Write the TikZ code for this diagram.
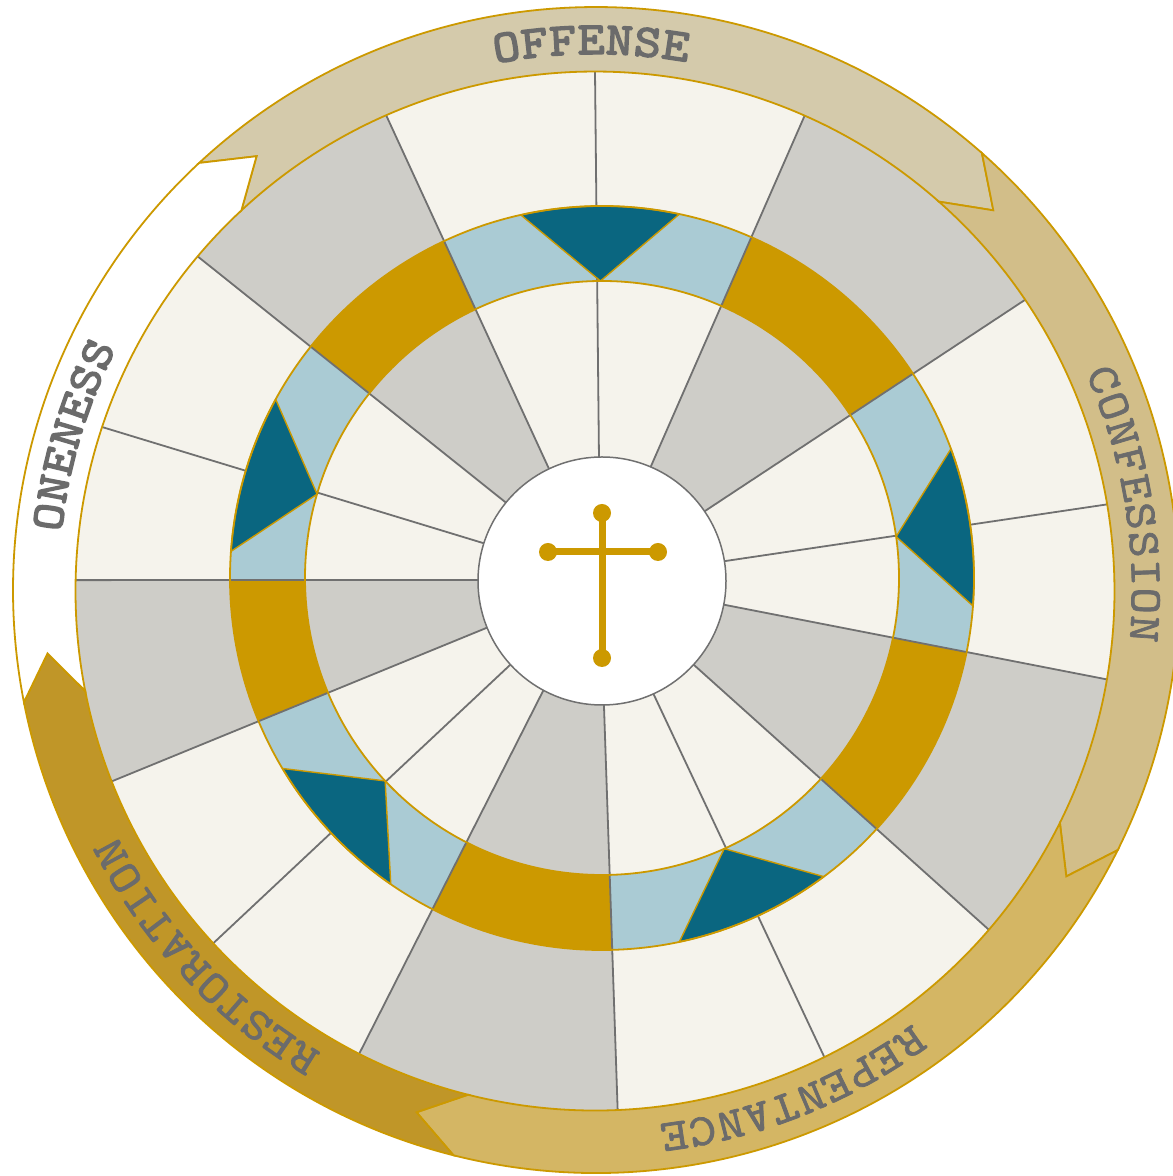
\documentclass[tikz,border=0pt]{standalone}
\usepackage{fontspec}
\newfontfamily\bandfont[FakeBold=1.6,FakeStretch=1.12]{lmmono10-regular.otf}
\newfontfamily\bandbold[FakeBold=3.2,FakeStretch=1.12]{lmmono10-regular.otf}
\usetikzlibrary{calc}
\definecolor{WHGold}{HTML}{CC9900}
\definecolor{WHCream}{HTML}{F5F3EC}
\definecolor{WHGray}{HTML}{CECDC8}
\definecolor{WHBlue}{HTML}{AACBD4}
\definecolor{WHTeal}{HTML}{0A6680}
\definecolor{WHLine}{HTML}{707070}
\definecolor{WHText}{HTML}{6B6B6B}
\definecolor{WHOffense}{HTML}{D4CAAB}
\definecolor{WHConfess}{HTML}{D2BE89}
\definecolor{WHRepent}{HTML}{D4B664}
\definecolor{WHRestore}{HTML}{C09628}

\tikzset{
  spoke/.style={WHLine,line width=1.8pt},
  ringline/.style={WHGold,line width=1.8pt},
  tealtri/.style={fill=WHTeal,draw=WHGold,line width=1.4pt,line join=round},
  lbl regular/.style={anchor=base,inner sep=0pt,text=WHText,font=\bandfont\fontsize{45}{45}\selectfont},
  lbl bold/.style={lbl regular,font=\bandbold\fontsize{46}{46}\selectfont},
}

% one band arrow: fill, tail base, tail tip, head base, head tip
\newcommand\bandarrow[5]{%
  \filldraw[fill=#1,draw=WHGold,line width=1.8pt,line join=miter]
    ($(C4)+(#2:583)$) arc[start angle=#2,end angle=#4,radius=583]
    -- ($(C3)+(#5:551)$) -- ($(C3)+(#4:519.5)$)
    arc[start angle=#4,end angle=#2,radius=519.5]
    -- ($(C3)+(#3:551)$) -- cycle;}

% letters set along the band: style, name prefix, mid angle, half count, letters
\newcommand\bandword[5]{%
  \foreach \ch [count=\i from 0] in {#5}{%
    \pgfmathsetmacro\wang{#3+(#4-\i)*2.95}%
    \node[#1,rotate=\wang-90] (#2\i) at ($(C3)+(\wang:537)$) {\ch};}}

\begin{document}
\begin{tikzpicture}[x=1pt,y=1pt]
\path[use as bounding box] (0,0) rectangle (1173,1176);
\coordinate (C1) at (602,595);
\coordinate (C2) at (602,598);
\coordinate (C3) at (595,585);
\coordinate (C4) at (596,586);

% segments
\fill[WHCream] (C3) circle (519.5);
\foreach \ai/\ao/\bi/\bo in {66.9/66.2/34.2/34.1,-11.0/-9.8/-42.4/-40.7,
  -89.1/-87.5/-118.2/-117.0,-157.9/-158.5/-180.5/-181.2,-219.2/-220.1/-244.7/-246.3}
  \fill[WHGray] ($(C1)+(\ai:124)$) -- ($(C3)+(\ao:519.5)$)
    arc[start angle=\ao,end angle=\bo,radius=519.5] -- ($(C1)+(\bi:124)$) -- cycle;

% middle ring
\fill[WHBlue,even odd rule] (C2) circle (372) (C2) circle (297);
\begin{scope}
\clip ($(C2)+(372,0)$) arc[start angle=0,end angle=360,radius=372]
  -- ($(C2)+(297,0)$) arc[start angle=360,end angle=0,radius=297] -- cycle;
\foreach \ai/\ao/\bi/\bo in {66.9/66.2/34.2/34.1,-11.0/-9.8/-42.4/-40.7,
  -89.1/-87.5/-118.2/-117.0,-157.9/-158.5/-180.5/-181.2,-219.2/-220.1/-244.7/-246.3}
  \fill[WHGold] ($(C1)+(\ai:124)$) -- ($(C3)+(\ao:519.5)$)
    -- ($(C3)+(\bo:519.5)$) -- ($(C1)+(\bi:124)$) -- cycle;
\end{scope}

% spokes
\foreach \ai/\ao in {91.4/90.0,66.9/66.2,34.2/34.1,9.2/9.6,-11.0/-9.8,-42.4/-40.7,
  -65.5/-63.8,-89.1/-87.5,-118.2/-117.0,-137.6/-137.3,-157.9/-158.5,
  -180.5/-181.2,-197.7/-198.4,-219.2/-220.1,-244.7/-246.3}
  \draw[spoke] ($(C1)+(\ai:124)$) -- ($(C3)+(\ao:519.5)$);

% teal triangles
\foreach \a in {90.3,8.0,-65.7,-136.9,163.6}
  \filldraw[tealtri] ($(C2)+(\a:297)$) -- ($(C2)+({\a+12.3}:372)$)
    arc[start angle={\a+12.3},end angle={\a-12.3},radius=372] -- cycle;
\draw[ringline] (C2) circle (372);
\draw[ringline] (C2) circle (297);

% band arrows
\bandarrow{WHOffense}{132.9}{127.9}{48.55}{43.7}
\bandarrow{WHConfess}{48.55}{43.7}{-26.5}{-31.2}
\bandarrow{WHRepent}{-26.5}{-31.2}{-104.15}{-108.9}
\bandarrow{WHRestore}{-104.15}{-108.9}{-168.9}{-173.5}
\bandarrow{white}{-168.9}{-173.5}{-227.1}{-232.1}

% centre and cross
\filldraw[fill=white,draw=WHLine,line width=1.5pt] (C1) circle (124);
\draw[WHGold,line width=7pt] (602,663) -- (602,518);
\draw[WHGold,line width=7pt] (548,624) -- (658,624);
\foreach \p in {(602,663),(602,518),(548,624),(658,624)}
  \fill[WHGold] \p circle (9);

% labels
\bandword{lbl bold}{off}{90.4}{3}{O,F,F,E,N,S,E}
\bandword{lbl regular}{con}{9.3}{4.5}{C,O,N,F,E,S,S,I,O,N}
\bandword{lbl regular}{rep}{-68.4}{4.5}{R,E,P,E,N,T,A,N,C,E}
\bandword{lbl regular}{res}{-136.8}{5}{R,E,S,T,O,R,A,T,I,O,N}
\bandword{lbl bold}{one}{163.4}{3}{O,N,E,N,E,S,S}
\end{tikzpicture}
\end{document}
